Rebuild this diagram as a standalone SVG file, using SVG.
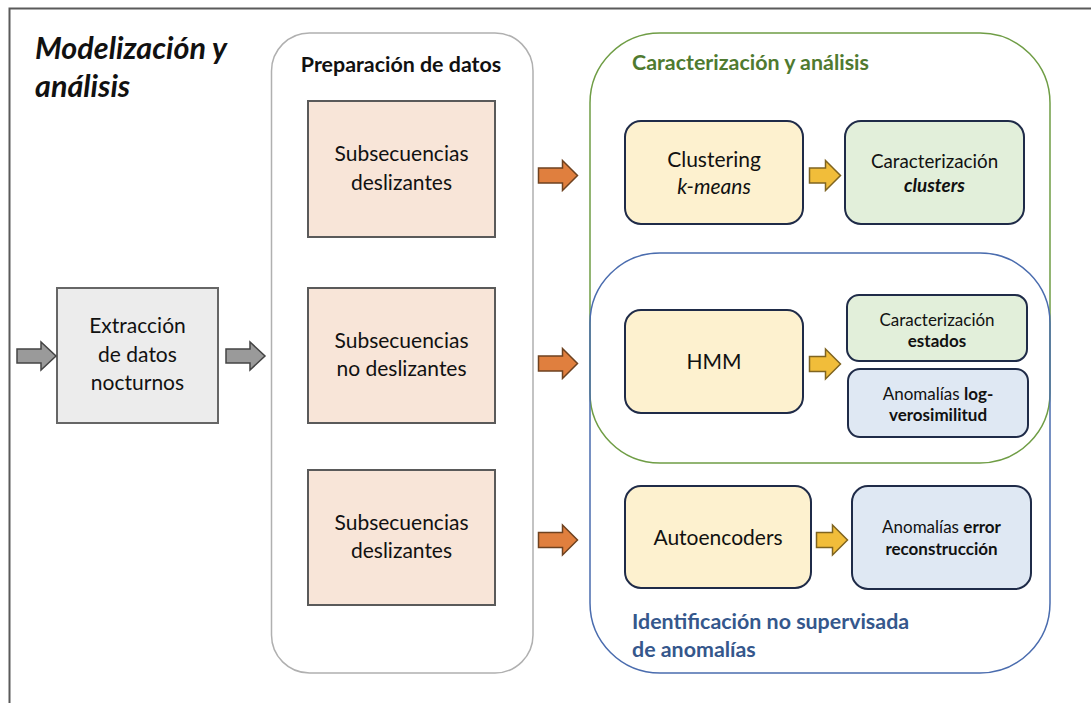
<svg xmlns="http://www.w3.org/2000/svg" width="1091" height="703" viewBox="0 0 1091 703">
<style>
text{font-family:Lato,"Liberation Sans",sans-serif;fill:#111;text-anchor:middle}
.b{font-weight:bold}
.i{font-style:italic}
.m{font-size:21px}
.s{font-size:17px}
.h{font-size:21.4px;font-weight:bold}
.prep{fill:#f8e5d8;stroke:#5a5a5a;stroke-width:2}
.ext{fill:#ececec;stroke:#666;stroke-width:2}
.y{fill:#fdf1cf;stroke:#1f2b48;stroke-width:2}
.g{fill:#e2efda;stroke:#1f2b48;stroke-width:2}
.bl{fill:#dfe8f3;stroke:#1f2b48;stroke-width:2}
.panel{fill:none;stroke-width:1.5}
.ag{fill:#9a9a9a;stroke:#444;stroke-width:1.5}
.ao{fill:#e07f3e;stroke:#6e4220;stroke-width:1.5}
.ay{fill:#f1bd3a;stroke:#7f6420;stroke-width:1.5}
</style>
<defs>
<path id="arrL" d="M0,-7.5 H24 V-15 L39,0 L24,15 V7.5 H0 Z"/>
<path id="arrS" d="M0,-7.5 H16 V-15 L31,0 L16,15 V7.5 H0 Z"/>
</defs>
<rect width="1091" height="703" fill="#fff"/>
<path d="M9.5,703 V8.5 H1091" fill="none" stroke="#5a5a5a" stroke-width="2"/>
<g id="title">
<text x="35" y="59" class="b i" style="text-anchor:start;font-size:30.5px">Modelización y</text>
<text x="35" y="97" class="b i" style="text-anchor:start;font-size:30.5px">análisis</text>
</g>
<g id="panel-preparacion">
<rect x="271.5" y="33" width="261.5" height="640" rx="38" class="panel" stroke="#b0b0b0"/>
<text x="401" y="72" class="h">Preparación de datos</text>
</g>
<g id="panel-caracterizacion">
<rect x="590" y="33" width="460" height="430" rx="70" class="panel" stroke="#6f9d45"/>
<text x="632" y="70" class="h" style="text-anchor:start;fill:#4f7a30">Caracterización y análisis</text>
</g>
<g id="panel-anomalias">
<rect x="590" y="253" width="460" height="420" rx="70" class="panel" stroke="#4a6cae"/>
<text x="632" y="629" class="h" style="text-anchor:start;fill:#35578c">Identificación no supervisada</text>
<text x="632" y="657" class="h" style="text-anchor:start;fill:#35578c">de anomalías</text>
</g>
<g id="extraccion">
<rect x="57" y="288" width="161" height="135" class="ext"/>
<text x="137.5" y="333" class="m">Extracción</text>
<text x="137.5" y="362" class="m">de datos</text>
<text x="137.5" y="390" class="m">nocturnos</text>
</g>
<g id="sub-deslizantes-1">
<rect x="308" y="101" width="187" height="136" class="prep"/>
<text x="401.5" y="161" class="m">Subsecuencias</text>
<text x="401.5" y="190" class="m">deslizantes</text>
</g>
<g id="sub-no-deslizantes">
<rect x="308" y="288" width="187" height="135" class="prep"/>
<text x="401.5" y="348" class="m">Subsecuencias</text>
<text x="401.5" y="376" class="m">no deslizantes</text>
</g>
<g id="sub-deslizantes-2">
<rect x="308" y="470" width="187" height="135" class="prep"/>
<text x="401.5" y="530" class="m">Subsecuencias</text>
<text x="401.5" y="558" class="m">deslizantes</text>
</g>
<g id="clustering">
<rect x="625" y="121" width="178" height="103" rx="16" class="y"/>
<text x="714" y="167" class="m">Clustering</text>
<text x="714" y="194" class="m i">k-means</text>
</g>
<g id="car-clusters">
<rect x="845" y="121" width="179" height="103" rx="16" class="g"/>
<text x="934.5" y="168" style="font-size:18.8px">Caracterización</text>
<text x="934.5" y="192" class="b i" style="font-size:18.8px">clusters</text>
</g>
<g id="hmm">
<rect x="625" y="310" width="178" height="103" rx="16" class="y"/>
<text x="714" y="369" class="m">HMM</text>
</g>
<g id="car-estados">
<rect x="847" y="295" width="180" height="66" rx="12" class="g"/>
<text x="937" y="326" class="s">Caracterización</text>
<text x="937" y="347" class="s b">estados</text>
</g>
<g id="anom-log">
<rect x="848" y="369" width="180" height="68" rx="12" class="bl"/>
<text x="938" y="400" class="s">Anomalías <tspan class="b">log-</tspan></text>
<text x="938" y="421" class="s b">verosimilitud</text>
</g>
<g id="autoencoders">
<rect x="625" y="486" width="186" height="102" rx="16" class="y"/>
<text x="718" y="545" class="m">Autoencoders</text>
</g>
<g id="anom-error">
<rect x="852" y="486" width="179" height="103" rx="16" class="bl"/>
<text x="941.5" y="533" class="s">Anomalías <tspan class="b">error</tspan></text>
<text x="941.5" y="555" class="s b">reconstrucción</text>
</g>
<g id="connectors">
<path class="ag" d="M17,349 H41 V342 L56,356 L41,370 V363 H17 Z"/>
<path class="ag" d="M226,349 H250 V342 L265,356 L250,370 V363 H226 Z"/>
<use href="#arrL" class="ao" transform="translate(538.5,175.5)"/>
<use href="#arrL" class="ao" transform="translate(538.5,363.5)"/>
<use href="#arrL" class="ao" transform="translate(538.5,540)"/>
<use href="#arrS" class="ay" transform="translate(809.5,175.5)"/>
<use href="#arrS" class="ay" transform="translate(809.5,364)"/>
<use href="#arrS" class="ay" transform="translate(816.5,540)"/>
</g>
</svg>
